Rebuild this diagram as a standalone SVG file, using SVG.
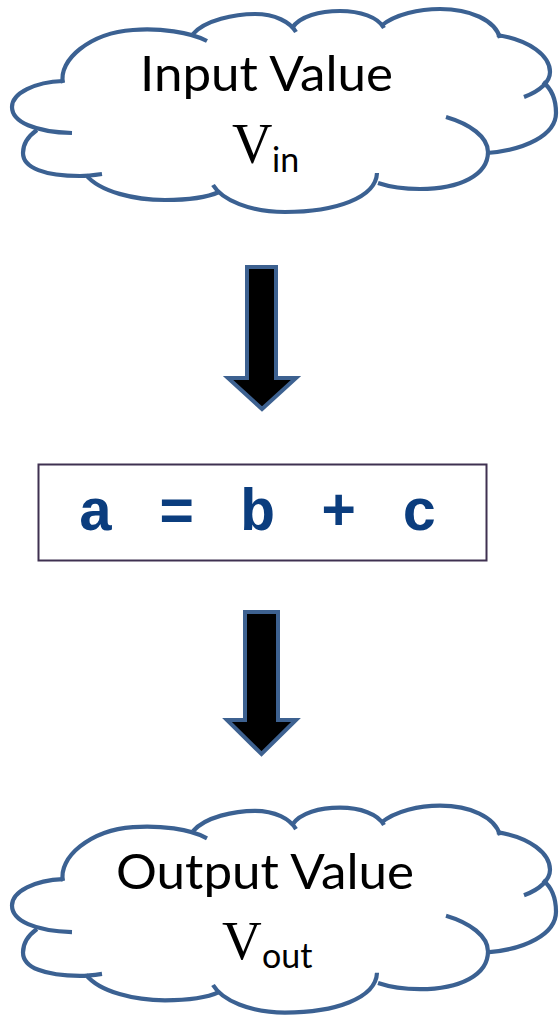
<svg xmlns="http://www.w3.org/2000/svg" xmlns:xlink="http://www.w3.org/1999/xlink" width="560" height="1015" viewBox="0 0 560 1015">
<style>
.cloud{fill:#ffffff;stroke:none}
.cl{fill:none;stroke:#3b6192;stroke-width:4.2}
.lbl{font-family:Lato,"Open Sans",sans-serif;fill:#000000}
.v{font-family:"Liberation Serif","Times New Roman",serif;fill:#000000}
.arrow{fill:#000000;stroke:#3d6190;stroke-width:4;stroke-linejoin:miter}
.box{fill:#ffffff;stroke:#3f3151;stroke-width:2}
.code{font-family:"Liberation Mono","Courier New",monospace;font-weight:bold;fill:#0b3d7e}
</style>
<defs>
<g id="cloudShape">
<path class="cloud" d="M63,81 C58,60 90,33 133,30 C160,28 180,30 193,34 C205,20 235,14 255,14 C275,14 286,20 292,28 C300,16 320,11 340,11 C360,11 373,16 381,26 C395,14 420,9 440,9 C470,9 492,20 498,35 C530,40 550,56 548,80 C555,90 556,102 556,113 C556,135 525,150 487,153 C488,175 460,189 420,189 C400,189 385,186 376,183 C370,200 335,212 285,212 C250,212 225,200 215,190 C205,197 190,200 165,200 C135,200 100,192 86,176 C45,176 23,168 23,153 C23,146 27,137 37,130 C20,125 12,117 12,107 C12,93 35,82 63,81 Z"/>
<path class="cl" d="M63,83 C58,60 90,33 133,30 C160,28 190,32 207,41"/>
<path class="cl" d="M193,34 C205,20 235,14 255,14 C275,14 290,22 296,32"/>
<path class="cl" d="M292,28 C300,16 320,11 340,11 C360,11 378,17 384,28"/>
<path class="cl" d="M381,26 C395,14 420,9 440,9 C470,9 495,20 500,38"/>
<path class="cl" d="M497,35 C530,40 550,56 550,72 C550,82 540,91 524,97"/>
<path class="cl" d="M543,82 C553,90 556,102 556,113 C556,135 525,150 487,153"/>
<path class="cl" d="M446,117 C470,124 488,137 488,152 C488,175 460,189 420,189 C405,189 390,187 378,183"/>
<path class="cl" d="M377,173 C376,198 335,212 285,212 C250,212 222,200 213,185"/>
<path class="cl" d="M86,175 C100,192 135,200 165,200 C190,200 208,197 219,192"/>
<path class="cl" d="M37,130 C27,137 23,146 23,153 C23,168 45,176 80,176 C88,176 95,175 102,174"/>
<path class="cl" d="M63,81 C35,82 12,93 12,107 C12,122 35,132 72,133"/>
</g>
</defs>
<g id="input-value">
<use xlink:href="#cloudShape" href="#cloudShape"/>
<text class="lbl" x="266.5" y="91" font-size="49" text-anchor="middle" textLength="253" lengthAdjust="spacingAndGlyphs">Input Value</text>
<text class="v" x="232" y="163" font-size="56">V</text>
<text class="lbl" x="272" y="172" font-size="34">in</text>
</g>
<g id="statement">
<rect class="box" x="38.5" y="464.5" width="448" height="96"/>
<text class="code" x="78" y="530" font-size="59" letter-spacing="5.1">a = b + c</text>
</g>
<g id="output-value">
<use xlink:href="#cloudShape" href="#cloudShape" transform="translate(0,796.5) scale(1,1.019)"/>
<text class="lbl" x="265" y="889" font-size="49" text-anchor="middle" textLength="298" lengthAdjust="spacingAndGlyphs">Output Value</text>
<text class="v" x="222" y="959" font-size="55">V</text>
<text class="lbl" x="262" y="968" font-size="34">out</text>
</g>
<g id="connectors">
<path class="arrow" d="M247,267 H276 V378 H296 L262,409 L228,378 H247 Z"/>
<path class="arrow" d="M245,612 H278 V720 H296 L261.5,754 L227,720 H245 Z"/>
</g>
</svg>
